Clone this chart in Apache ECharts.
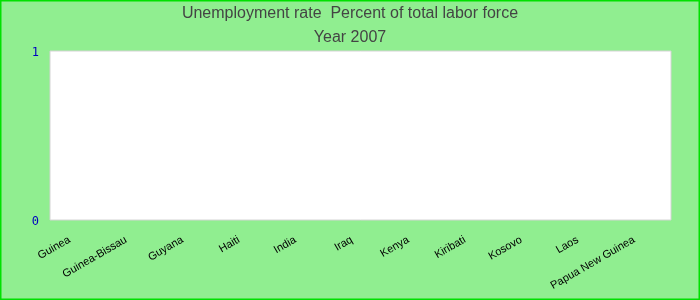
<!DOCTYPE html>
<html><head><meta charset="utf-8">
<script src="https://cdn.jsdelivr.net/npm/echarts@6/dist/echarts.min.js"></script>
<style>html,body{margin:0;padding:0;background:#90ee90}#c{width:700px;height:300px}</style>
</head><body><div id="c"></div>
<script>
var titleLines = ['Unemployment rate  Percent of total labor force', 'Year 2007'];
var categories = ['Guinea','Guinea-Bissau','Guyana','Haiti','India','Iraq','Kenya','Kiribati','Kosovo','Laos','Papua New Guinea'];
var values = [null,null,null,null,null,null,null,null,null,null,null];
var yTicks = [0, 1];

var chart = echarts.init(document.getElementById('c'), null, {renderer:'canvas'});
chart.setOption({
  backgroundColor: '#90ee90',
  animation: false,
  title: {
    text: titleLines.join('\n'),
    left: 'center', top: -3,
    textStyle: {color:'#444', fontSize:16, fontWeight:'normal', fontFamily:'Liberation Sans, Arial', lineHeight:24}
  },
  graphic: [{type:'rect', shape:{x:0.5,y:0.5,width:699,height:299}, style:{fill:'none', stroke:'#00e000', lineWidth:2}, silent:true, z:100}],
  grid: {left:50, right:29, top:51, bottom:80, show:true, backgroundColor:'#fff', borderColor:'#d4d4d4', borderWidth:1, containLabel:false},
  xAxis: {
    type:'category', data: categories,
    axisLine:{show:false}, axisTick:{show:false}, splitLine:{show:false},
    axisLabel:{rotate:30, interval:0, margin:14, padding:[0,10,0,0], color:'#000', fontSize:11, fontFamily:'Liberation Sans, Arial'}
  },
  yAxis: {
    type:'value', min:yTicks[0], max:yTicks[yTicks.length-1], interval:1,
    axisLine:{show:false}, axisTick:{show:false}, splitLine:{show:false},
    axisLabel:{margin:11, formatter:'{a|{value}}',
      rich:{a:{color:'#0000c0', fontSize:12, padding:[3,0,0,0], fontFamily:'DejaVu Sans Mono, monospace'}}}
  },
  series: [{type:'bar', data: values}]
});
</script></body></html>
